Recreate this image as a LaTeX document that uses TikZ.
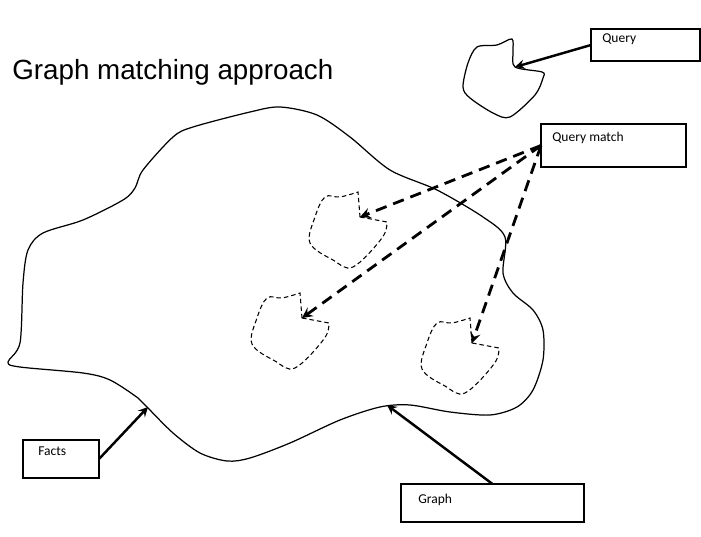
\documentclass[tikz,border=0pt]{standalone}
\usepackage{fontspec}
\setmainfont{Carlito}
\newfontfamily\titlefont{Liberation Sans}
\tikzset{
  box/.style={draw,rectangle,line width=0.6pt,inner sep=0pt,outer sep=0pt},
  lbl/.style={anchor=base west,inner sep=0pt,font=\fontsize{7.7}{9}\selectfont},
  blobline/.style={line width=0.7pt},
  matchline/.style={line width=0.6pt,dash pattern=on 2.6pt off 1.7pt},
  arr/.style={->,>=stealth,line width=1.4pt},
  dasharr/.style={->,>=stealth,line width=1.6pt,dash pattern=on 6.5pt off 4pt}
}
\begin{document}
\begin{tikzpicture}[x=0.02cm,y=-0.02cm]
  \useasboundingbox (0,0) rectangle (701,537);
  % title
  \node[anchor=base west,inner sep=0pt,font=\titlefont\fontsize{15.8}{18}\selectfont] (title) at (12,80) {Graph matching approach};
  % the graph
  \draw[blobline] plot[smooth cycle,tension=0.5] coordinates {(8,362) (20,343) (23,283) (28,250) (43,233) (83,220) (123,200) (135,188) (143,170) (173,137) (193,127) (250,112) (280,107) (317,115) (350,137) (390,170) (437,190) (483,217) (505,237) (503,273) (513,293) (533,310) (543,330) (543,360) (533,390) (517,407) (490,415) (450,412) (410,405) (380,407) (340,420) (290,443) (250,458) (227,461) (200,453) (173,433) (147,407) (138,398) (110,380) (83,373) (20,367)};
  % the query
  \draw[blobline] plot[smooth cycle,tension=0.5] coordinates {(477,47) (497,45) (512,39) (513,52) (515,67) (542,72) (543,78) (535,95) (510,117) (493,113) (470,98) (463,87) (468,63)};
  % matches
  \foreach \nx/\ny [count=\i] in {360/217, 302/318, 472/343} {
    \draw[matchline,shift={(\nx,\ny)}] (0,0) -- plot[smooth,tension=0.6] coordinates {(27,5) (22,21) (-7,50) (-27,43) (-50,26) (-45,0) (-35,-20) (-20,-20) (-2,-25)} -- cycle;
    \coordinate (m\i) at (\nx,\ny);
  }
  \coordinate (qnotch) at (515,67);
  \coordinate (facts-tip) at (148,407);
  \coordinate (graph-tip) at (387,405);
  % boxes
  \node[box,minimum width=2.18cm,minimum height=0.64cm] (query) at (645.5,45) {};
  \node[lbl] (query-lbl) at (602,43) {Query};
  \node[box,minimum width=2.9cm,minimum height=0.86cm] (qmatch) at (613.5,145.5) {};
  \node[lbl] (qmatch-lbl) at (552,142) {Query match};
  \node[box,minimum width=1.52cm,minimum height=0.76cm] (facts) at (61,459) {};
  \node[lbl] (facts-lbl) at (38,456) {Facts};
  \node[box,minimum width=3.66cm,minimum height=0.76cm] (graph) at (492.5,503) {};
  \node[lbl] (graph-lbl) at (418,503) {Graph};
  % arrows
  \draw[arr] (query.west) -- (qnotch);
  \draw[arr] (facts.east) -- (facts-tip);
  \draw[arr] (graph.north) -- (graph-tip);
  \foreach \i in {1,2,3}
    \draw[dasharr] (qmatch.west) -- (m\i);
\end{tikzpicture}
\end{document}
